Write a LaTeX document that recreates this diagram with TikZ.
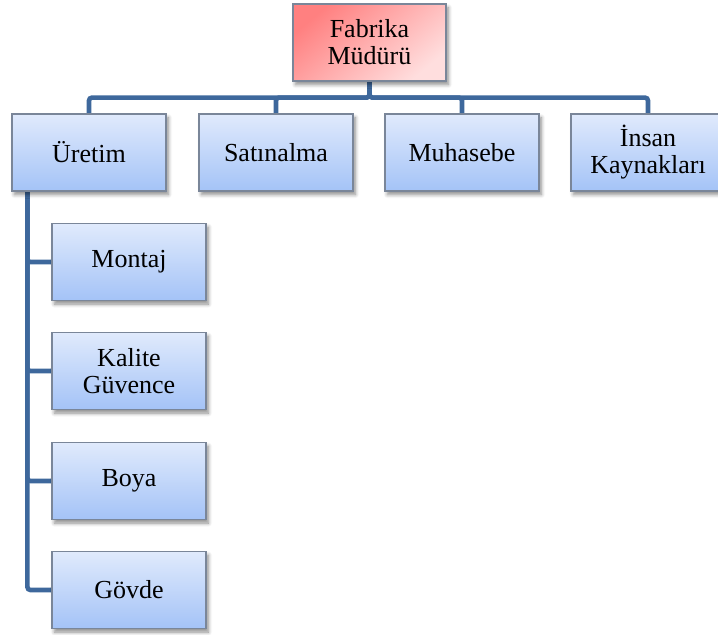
\documentclass[tikz,border=0pt]{standalone}
\usepackage{fontspec}
\setmainfont{Liberation Serif}
\usetikzlibrary{shadows.blur}
\pgfdeclarelayer{background}
\pgfsetlayers{background,main}
\definecolor{linkblue}{RGB}{62,104,156}
\definecolor{boxedge}{RGB}{122,134,153}
\definecolor{boxtop}{RGB}{224,234,252}
\definecolor{boxbot}{RGB}{164,195,247}
\definecolor{headdark}{RGB}{255,128,128}
\definecolor{headlight}{RGB}{255,222,222}
\tikzset{
  unitbox/.style={draw=boxedge, line width=0.6pt, minimum width=77pt, minimum height=38.5pt,
    inner sep=1pt, align=center, font=\fontsize{13}{13.5}\selectfont,
    blur shadow={shadow xshift=1.2pt, shadow yshift=-1.8pt, shadow blur steps=6, shadow opacity=45}},
  deptbox/.style={unitbox, top color=boxtop, bottom color=boxbot},
  headbox/.style={unitbox, minimum width=76.5pt, shading=axis, top color=headdark, bottom color=headlight, shading angle=40},
  conn/.style={draw=linkblue, line width=2.3pt, rounded corners=1.5pt}
}
\begin{document}
\begin{tikzpicture}[x=0.5pt, y=-0.5pt]
\useasboundingbox (0,0) rectangle (718,634);

% head of the organisation
\node[headbox] (head) at (369.5,42.5) {Fabrika\\Müdürü};

% departments
\node[deptbox] (uretim)    at (89,152.5)  {Üretim};
\node[deptbox] (satinalma) at (276,152.5) {Satınalma};
\node[deptbox] (muhasebe)  at (462,152.5) {Muhasebe};
\node[deptbox] (insan)     at (648,152.5) {İnsan\\Kaynakları};

% production units
\node[deptbox] (montaj) at (129,262) {Montaj};
\node[deptbox] (kalite) at (129,371) {Kalite\\Güvence};
\node[deptbox] (boya)   at (129,481) {Boya};
\node[deptbox] (govde)  at (129,590) {Gövde};

\begin{pgfonlayer}{background}
  \foreach \d in {uretim,satinalma,muhasebe,insan}
    \draw[conn] (head.south) -- ++(0,16) -| (\d.north);
  \foreach \u in {montaj,kalite,boya,govde}
    \draw[conn] (uretim.south west) ++(16,0) |- (\u.west);
\end{pgfonlayer}
\end{tikzpicture}
\end{document}
